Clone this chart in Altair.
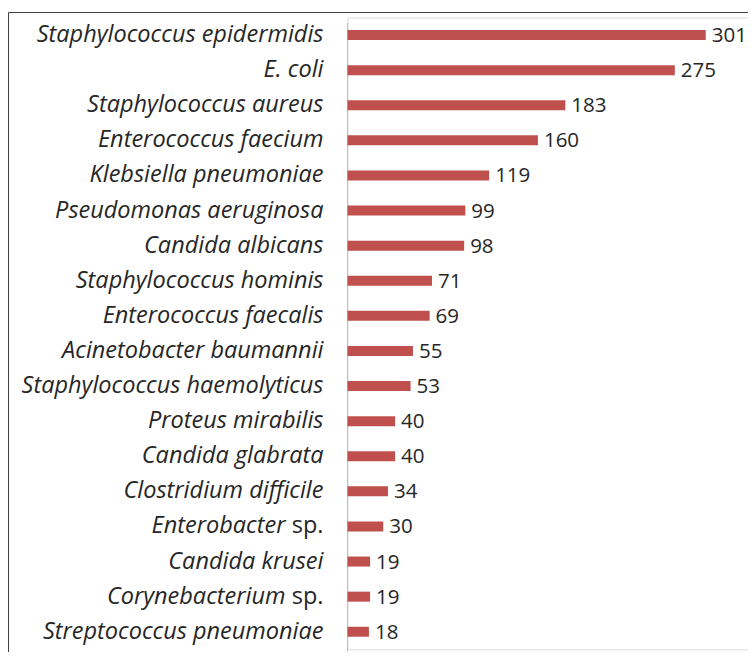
import altair as alt
import pandas as pd

species = ["Staphylococcus epidermidis", "E. coli", "Staphylococcus aureus",
           "Enterococcus faecium", "Klebsiella pneumoniae", "Pseudomonas aeruginosa",
           "Candida albicans", "Staphylococcus hominis", "Enterococcus faecalis",
           "Acinetobacter baumannii", "Staphylococcus haemolyticus", "Proteus mirabilis",
           "Candida glabrata", "Clostridium difficile", "Enterobacter", "Candida krusei",
           "Corynebacterium", "Streptococcus pneumoniae"]
suffixes = ["", "", "", "", "", "", "", "", "", "", "", "", "", "", "sp.", "", "sp.", ""]
counts = [301, 275, 183, 160, 119, 99, 98, 71, 69, 55, 53, 40, 40, 34, 30, 19, 19, 18]

df = pd.DataFrame({"species": species, "suffix": suffixes, "count": counts})

W, H = 400.5, 631.8
FONT = "Open Sans"
FS = 23.5
VFS = 20.5
RED = "#C0504D"
TXT = "#262626"

y = alt.Y("species:N", sort=species, axis=None,
          scale=alt.Scale(paddingInner=0, paddingOuter=0))
x = alt.X("count:Q", axis=None, scale=alt.Scale(domain=[0, 336.5]))

base = alt.Chart(df)

bars = base.mark_bar(color=RED, size=10).encode(x=x, y=y)

values = base.mark_text(align="left", baseline="middle", dx=6, dy=1, font=FONT,
                        fontSize=VFS, color=TXT).encode(x=x, y=y, text="count:Q")

plain = base.transform_filter("datum.suffix == ''").mark_text(
    align="right", baseline="middle", font=FONT, fontSize=FS, fontStyle="italic",
    color=TXT).encode(x=alt.value(-24), y=y, text="species:N")

sp_italic = base.transform_filter("datum.suffix != ''").mark_text(
    align="right", baseline="middle", font=FONT, fontSize=FS, fontStyle="italic",
    dx=-38, color=TXT).encode(x=alt.value(-24), y=y, text="species:N")

sp_roman = base.transform_filter("datum.suffix != ''").mark_text(
    align="right", baseline="middle", font=FONT, fontSize=FS,
    color=TXT).encode(x=alt.value(-24), y=y, text="suffix:N")

axis_line = alt.Chart(pd.DataFrame({"a": [0]})).mark_rule(
    color="#BFBFBF", strokeWidth=1).encode(
    x=alt.value(0), y=alt.value(5.5), y2=alt.value(H + 30))

frame = alt.Chart(pd.DataFrame({"a": [0]})).mark_rect(
    fill="transparent", stroke="#404040", strokeWidth=1).encode(
    x=alt.value(-339), x2=alt.value(W + 40), y=alt.value(-5), y2=alt.value(H + 40))

chart = alt.layer(frame, axis_line, bars, values, plain, sp_italic, sp_roman).properties(
    width=W, height=H,
    padding={"left": 339.5, "top": 9.5, "right": 0, "bottom": 2.7},
    autosize=alt.AutoSizeParams(type="none"),
).configure_view(stroke=None).configure(background="white")

chart.save("out.html", embed_options={"renderer": "svg", "actions": False})
